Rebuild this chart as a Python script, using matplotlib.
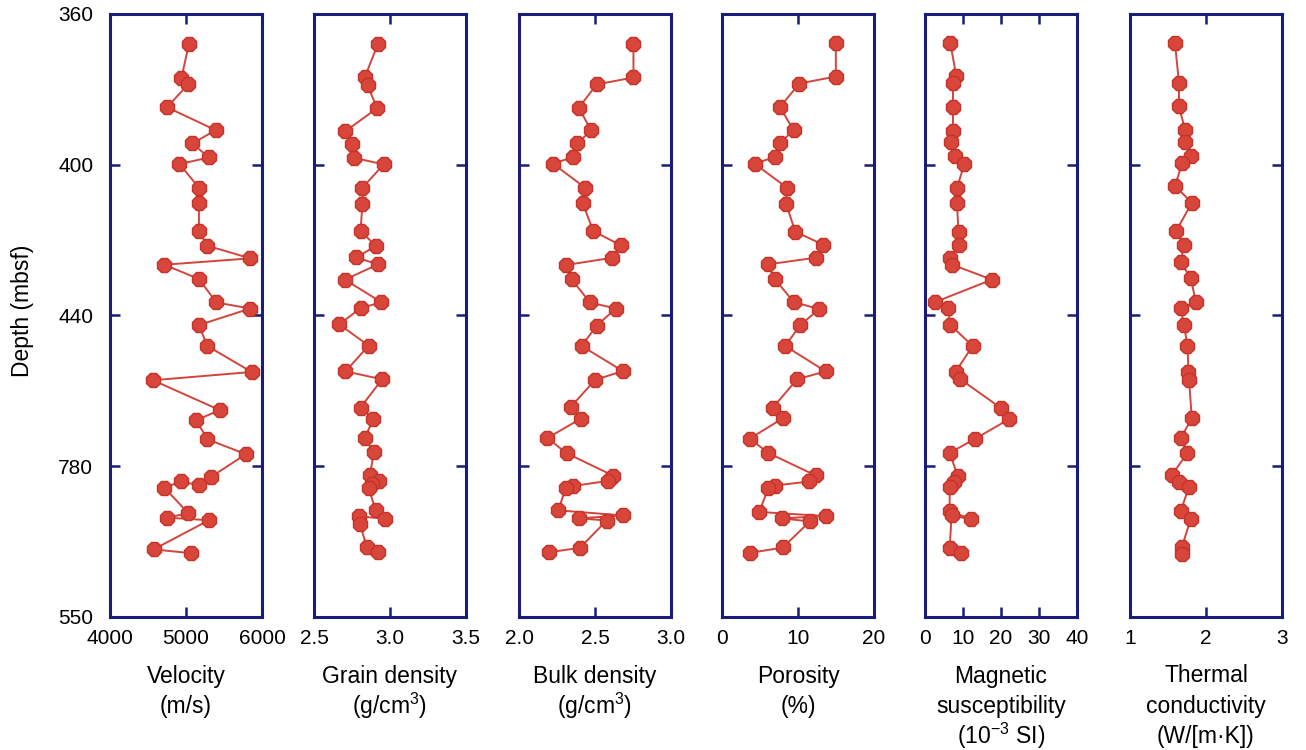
import numpy as np
import matplotlib
matplotlib.use("Agg")
import matplotlib.pyplot as plt

plt.rcParams['font.family'] = ['Liberation Sans', 'DejaVu Sans']
plt.rcParams['mathtext.fontset'] = 'custom'
plt.rcParams['mathtext.rm'] = 'Liberation Sans'
plt.rcParams['mathtext.it'] = 'Liberation Sans:italic'
plt.rcParams['mathtext.bf'] = 'Liberation Sans:bold'

# ---------------- data ----------------
vel_depth = [369.5, 380.2, 382.1, 389.4, 396.6, 400.8, 405.2, 407.3, 414.7, 419.7, 428.3, 433.0,
             437.0, 439.0, 443.5, 450.9, 452.8, 458.0, 464.6, 472.8, 475.4, 484.8, 488.0, 494.0,
             498.7, 505.8, 508.5, 507.3, 509.2, 517.3, 518.7, 519.5, 528.7, 529.9]
vel = [5037, 4940, 5029, 4751, 5391, 5082, 5302, 4914, 5170, 5170, 5170, 5280,
       5845, 4715, 5170, 5400, 5845, 5170, 5280, 5864, 4565, 5444, 5135, 5280,
       5788, 5333, 5170, 4940, 4715, 5029, 4751, 5302, 4574, 5069]

grain_depth = [369.4, 379.9, 382.4, 389.7, 396.9, 401.0, 405.3, 407.4, 414.7, 419.9, 428.3, 433.1,
               436.7, 438.9, 443.7, 450.8, 452.7, 457.8, 464.5, 472.6, 475.1, 484.0, 487.6, 493.7,
               498.1, 505.3, 507.0, 508.1, 509.5, 516.4, 519.0, 518.3, 520.6, 528.0, 529.5]
grain = [2.921, 2.834, 2.852, 2.915, 2.707, 2.747, 2.762, 2.959, 2.819, 2.819, 2.806, 2.906,
         2.779, 2.921, 2.703, 2.943, 2.806, 2.666, 2.860, 2.707, 2.948, 2.806, 2.889, 2.834,
         2.895, 2.867, 2.925, 2.880, 2.860, 2.906, 2.965, 2.797, 2.800, 2.849, 2.921]

bulk_depth = [369.4, 380.0, 382.2, 389.5, 396.7, 400.8, 405.1, 407.2, 414.7, 419.7, 428.4, 432.9,
              436.8, 439.1, 443.6, 450.9, 452.8, 458.2, 464.6, 472.5, 475.3, 483.9, 487.5, 493.6,
              498.4, 505.5, 507.1, 508.7, 509.3, 516.4, 518.0, 518.9, 519.6, 528.2, 529.6]
bulk = [2.753, 2.753, 2.511, 2.394, 2.474, 2.383, 2.352, 2.225, 2.434, 2.419, 2.489, 2.670,
        2.615, 2.308, 2.346, 2.467, 2.637, 2.511, 2.412, 2.683, 2.500, 2.339, 2.407, 2.187,
        2.313, 2.621, 2.588, 2.357, 2.308, 2.258, 2.683, 2.394, 2.577, 2.401, 2.198]

por_depth = [369.0, 379.7, 381.9, 389.3, 396.7, 400.5, 405.0, 407.2, 414.7, 419.8, 428.6, 432.7,
             436.8, 438.9, 443.6, 450.7, 453.0, 458.0, 464.6, 472.6, 475.1, 484.1, 487.4, 493.8,
             498.3, 505.4, 507.3, 508.6, 509.5, 516.9, 518.2, 518.9, 519.9, 528.1, 529.8]
por = [14.98, 14.98, 10.18, 7.64, 9.42, 7.64, 6.98, 4.31, 8.53, 8.44, 9.64, 13.33,
       12.31, 6.00, 6.98, 9.42, 12.76, 10.31, 8.31, 13.64, 9.87, 6.67, 8.00, 3.64,
       6.09, 12.31, 11.42, 6.98, 6.09, 4.89, 13.64, 7.87, 11.56, 8.00, 3.73]

mag_depth = [369.2, 379.6, 381.8, 389.3, 397.0, 400.4, 404.9, 407.2, 414.8, 419.7, 428.7, 432.9,
             437.0, 439.0, 443.7, 450.8, 452.7, 458.0, 464.6, 472.7, 474.9, 484.1, 487.7, 493.8,
             498.3, 505.7, 507.5, 508.9, 516.6, 519.2, 518.0, 528.2, 529.7]
mag = [6.67, 8.23, 7.36, 7.36, 7.36, 6.93, 7.79, 10.39, 8.40, 8.40, 8.83, 8.83,
       6.49, 7.19, 17.58, 2.60, 6.06, 6.67, 12.55, 8.05, 9.09, 19.91, 22.08, 13.25,
       6.49, 8.66, 7.50, 6.49, 6.49, 12.12, 7.00, 6.49, 9.52]

tc_depth = [369.0, 381.6, 389.1, 396.4, 400.2, 404.7, 407.0, 414.1, 419.5, 428.3, 432.8, 438.2,
            443.3, 450.8, 452.6, 458.1, 464.5, 472.9, 475.4, 487.4, 493.7, 498.3, 505.4, 507.6,
            508.9, 516.6, 519.1, 528.1, 530.1]
tc = [1.591, 1.644, 1.644, 1.724, 1.724, 1.800, 1.689, 1.591, 1.813, 1.609, 1.711, 1.667,
      1.800, 1.867, 1.667, 1.711, 1.756, 1.769, 1.778, 1.813, 1.667, 1.756, 1.547, 1.644,
      1.778, 1.667, 1.800, 1.680, 1.680]

depth_ticks = [360, 407.5, 455, 502.5, 550]
depth_tick_labels = ['360', '400', '440', '780', '550']

panels = [
    dict(d=vel_depth, v=vel, lim=(4000, 6000), ticks=[4000, 5000, 6000],
         labels=['4000', '5000', '6000'], title=['Velocity', '(m/s)']),
    dict(d=grain_depth, v=grain, lim=(2.5, 3.5), ticks=[2.5, 3.0, 3.5],
         labels=['2.5', '3.0', '3.5'], title=['Grain density', '(g/cm$^{3}$)']),
    dict(d=bulk_depth, v=bulk, lim=(2.0, 3.0), ticks=[2.0, 2.5, 3.0],
         labels=['2.0', '2.5', '3.0'], title=['Bulk density', '(g/cm$^{3}$)']),
    dict(d=por_depth, v=por, lim=(0, 20), ticks=[0, 10, 20],
         labels=['0', '10', '20'], title=['Porosity', '(%)']),
    dict(d=mag_depth, v=mag, lim=(0, 40), ticks=[0, 10, 20, 30, 40],
         labels=['0', '10', '20', '30', '40'],
         title=['Magnetic', 'susceptibility', '(10$^{\\mathregular{-3}}$ SI)']),
    dict(d=tc_depth, v=tc, lim=(1, 3), ticks=[1, 2, 3],
         labels=['1', '2', '3'], title=['Thermal', 'conductivity', '(W/[m·K])']),
]

W, H = 1306, 750
fig = plt.figure(figsize=(W / 100, H / 100), dpi=100)
lefts = [110, 314, 519, 722, 925, 1130]
pw = 152
top_px, bot_px = 14, 617

navy = '#1b1b78'
tick_cols = [navy, navy, '#4a5ac0', '#202030', navy]
red_line = '#d2453c'
red_fill = '#d8453b'
red_edge = '#c43228'

for i, (lp, p) in enumerate(zip(lefts, panels)):
    ax = fig.add_axes([lp / W, 1 - bot_px / H, pw / W, (bot_px - top_px) / H])
    ax.plot(p['v'], p['d'], color=red_line, lw=1.4, marker='8', markersize=10.5,
            markerfacecolor=red_fill, markeredgecolor=red_edge, markeredgewidth=1.0,
            zorder=3)
    ax.set_xlim(*p['lim'])
    ax.set_ylim(550, 360)
    ax.set_xticks(p['ticks'])
    ax.set_xticklabels(p['labels'])
    ax.set_yticks(depth_ticks)
    ax.set_yticklabels(depth_tick_labels if i == 0 else [])
    for s in ax.spines.values():
        s.set_color(navy)
        s.set_linewidth(2.2)
    ax.tick_params(axis='x', direction='in', top=True, bottom=True, length=7,
                   width=1.8, color=navy, labelsize=15, pad=9, labelcolor='black')
    ax.tick_params(axis='y', direction='in', left=True, right=True, length=7,
                   width=1.8, color=navy, labelsize=15, pad=12, labelcolor='black')
    for t, c in zip(ax.yaxis.get_major_ticks(), tick_cols):
        t.tick1line.set_color(c)
        t.tick2line.set_color(c)
    cx = (lp + pw / 2) / W
    for k, line in enumerate(p['title']):
        fig.text(cx, 1 - (676 + 30 * k) / H, line, ha='center', va='center', fontsize=16.5)

fig.text(22 / W, 1 - 311 / H, 'Depth (mbsf)', rotation=90, ha='center', va='center',
         fontsize=16.5)

fig.savefig('out.png', dpi=100)
